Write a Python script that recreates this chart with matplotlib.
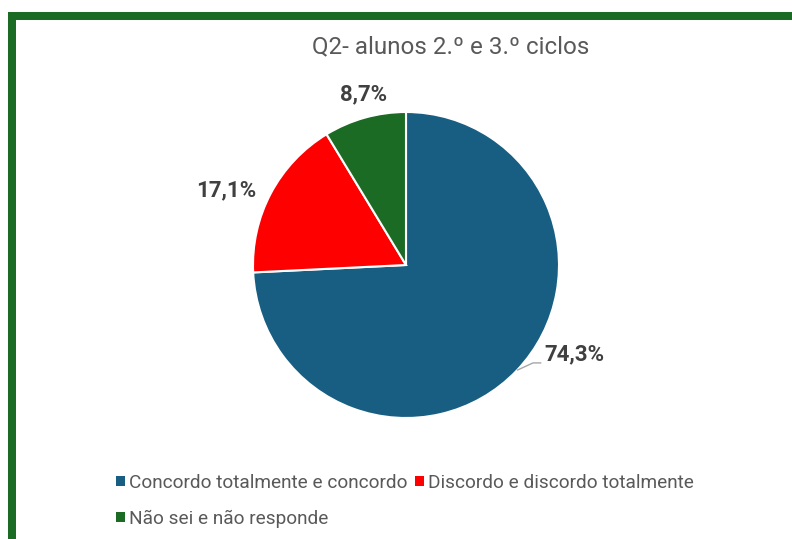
import matplotlib
matplotlib.use("Agg")
import matplotlib.pyplot as plt
from matplotlib.patches import Patch
from matplotlib.lines import Line2D
import numpy as np

plt.rcParams['font.family'] = ['Roboto', 'DejaVu Sans']

title = "Q2- alunos 2.º e 3.º ciclos"
categories = ["Concordo totalmente e concordo", "Discordo e discordo totalmente", "Não sei e não responde"]
values = [74.3, 17.1, 8.7]
value_labels = ["74,3%", "17,1%", "8,7%"]
colors = ["#175E82", "#FF0000", "#1B6B25"]

W, H = 792, 539
fig = plt.figure(figsize=(W / 100, H / 100), dpi=100)
fig.patch.set_facecolor("white")

# pie axes: centre (406,265) px from top-left, radius 153 px
cx, cy, r = 406, 265, 153
ax = fig.add_axes([(cx - r) / W, 1 - (cy + r) / H, 2 * r / W, 2 * r / H])
wedges, _ = ax.pie(values, colors=colors, startangle=90, counterclock=False,
                   radius=1.0, wedgeprops=dict(edgecolor="white", linewidth=1.5))
ax.set_xlim(-1, 1)
ax.set_ylim(-1, 1)
ax.set_aspect("equal")
ax.axis("off")

# label placement (angle in degrees, radial distance factor)
label_pos = [(-28, 1.25), (157.4, 1.275), (104, 1.15)]
for i, (w, lab) in enumerate(zip(wedges, value_labels)):
    ang, dist = label_pos[i]
    tx, ty = dist * np.cos(np.radians(ang)), dist * np.sin(np.radians(ang))
    ax.text(tx, ty, lab, ha="center", va="center", fontsize=16, fontweight="bold",
            color="#404040", clip_on=False)

# leader line for the large slice
ax.plot([0.73, 0.83, 0.88], [-0.686, -0.64, -0.64],
        color="#A6A6A6", lw=1, clip_on=False)

fig.text(451 / W, 1 - 47 / H, title, ha="center", va="center",
         fontsize=17.4, color="#595959")

handles = [Patch(facecolor=c, edgecolor="none") for c in colors]
order = [0, 2, 1]
leg = fig.legend([handles[i] for i in order], [categories[i] for i in order],
                 ncol=2, loc="upper left", bbox_to_anchor=(116 / W, 1 - 474 / H),
                 frameon=False, fontsize=13.7, handlelength=0.47, handleheight=0.47,
                 handletextpad=0.2, columnspacing=0.4, labelspacing=0.92,
                 borderaxespad=0, borderpad=0)
for t in leg.get_texts():
    t.set_color("#595959")

# green frame (left and top edges visible)
lw = 8 * 72 / 100
fig.add_artist(Line2D([12 / W, 12 / W], [-0.1, 1 - 15.5 / H], transform=fig.transFigure,
                      color="#1B6B25", lw=lw, solid_capstyle="projecting"))
fig.add_artist(Line2D([12 / W, 1.1], [1 - 15.5 / H, 1 - 15.5 / H], transform=fig.transFigure,
                      color="#1B6B25", lw=lw, solid_capstyle="projecting"))

fig.savefig("out.png", dpi=100, facecolor="white")
